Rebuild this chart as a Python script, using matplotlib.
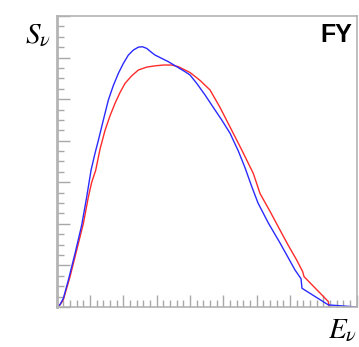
import matplotlib.pyplot as plt
from matplotlib.ticker import MultipleLocator

plt.rcParams['mathtext.fontset'] = 'stix'

# values (arbitrary units)
blue_x = [0.0, 0.1, 0.2, 0.35, 0.55, 0.75, 0.9, 1.03, 1.15, 1.25, 1.4, 1.55, 1.7, 1.85,
          2.0, 2.15, 2.3, 2.45, 2.57, 2.7, 2.85, 2.95, 3.15, 3.35, 3.6, 3.85, 4.0, 4.2,
          4.45, 4.69, 4.95, 5.2, 5.45, 5.65, 5.85, 6.04, 6.35, 6.7, 6.95, 7.15, 7.33,
          7.36, 8.15, 9.0]
blue_y = [0.0, 0.06, 0.21, 0.65, 1.29, 1.97, 2.65, 3.29, 3.7, 4.01, 4.5, 4.98, 5.33, 5.62,
          5.86, 6.06, 6.18, 6.25, 6.26, 6.22, 6.12, 6.06, 5.98, 5.9, 5.78, 5.66, 5.58, 5.38,
          5.1, 4.81, 4.5, 4.18, 3.75, 3.35, 2.9, 2.5, 2.02, 1.54, 1.18, 0.89, 0.68,
          0.45, 0.05, 0.0]
red_x = [0.0, 0.1, 0.2, 0.4, 0.6, 0.8, 0.95, 1.05, 1.17, 1.3, 1.45, 1.6, 1.75, 1.9, 2.05,
         2.25, 2.45, 2.7, 2.95, 3.2, 3.45, 3.65, 3.85, 4.0, 4.3, 4.6, 4.9, 5.2, 5.55, 5.9,
         6.1, 6.4, 6.7, 6.95, 7.2, 7.38, 7.42, 8.15, 8.17]
red_y = [0.0, 0.05, 0.18, 0.73, 1.37, 2.01, 2.65, 3.0, 3.29, 3.8, 4.25, 4.6, 4.9, 5.16,
         5.38, 5.56, 5.7, 5.77, 5.8, 5.82, 5.82, 5.78, 5.7, 5.64, 5.45, 5.22, 4.8, 4.33,
         3.78, 3.21, 2.73, 2.3, 1.85, 1.48, 1.13, 0.85, 0.73, 0.13, 0.0]

fig = plt.figure(figsize=(3.59, 3.47), dpi=100)
ax = fig.add_axes([0.158, 0.1153, 0.8355, 0.8387])

ax.plot(red_x, red_y, color='#ff2a2a', lw=1.0)
ax.plot(blue_x, blue_y, color='#2a2aff', lw=1.0)

ax.set_xlim(0, 9)
ax.set_ylim(0, 7)

ax.xaxis.set_major_locator(MultipleLocator(1))
ax.xaxis.set_minor_locator(MultipleLocator(0.2))
ax.yaxis.set_major_locator(MultipleLocator(1))
ax.yaxis.set_minor_locator(MultipleLocator(0.25))
ax.tick_params(which='both', direction='in', color='#a8a8a8', width=1.0,
               labelbottom=False, labelleft=False, top=False, right=False)
ax.tick_params(which='major', length=9)
ax.tick_params(which='minor', length=5)

for s in ax.spines.values():
    s.set_color('#b4b4b4')
    s.set_linewidth(1.2)
ax.spines['left'].set_linewidth(2.0)

fig.text(0.105, 0.9, r'$S_\nu$', fontsize=21, ha='center', va='center')
fig.text(0.955, 0.05, r'$E_\nu$', fontsize=21, ha='center', va='center')
ax.text(0.985, 0.975, 'FY', transform=ax.transAxes, ha='right', va='top',
        fontsize=18, fontweight='bold', family='Liberation Sans')

fig.savefig('out.png')
